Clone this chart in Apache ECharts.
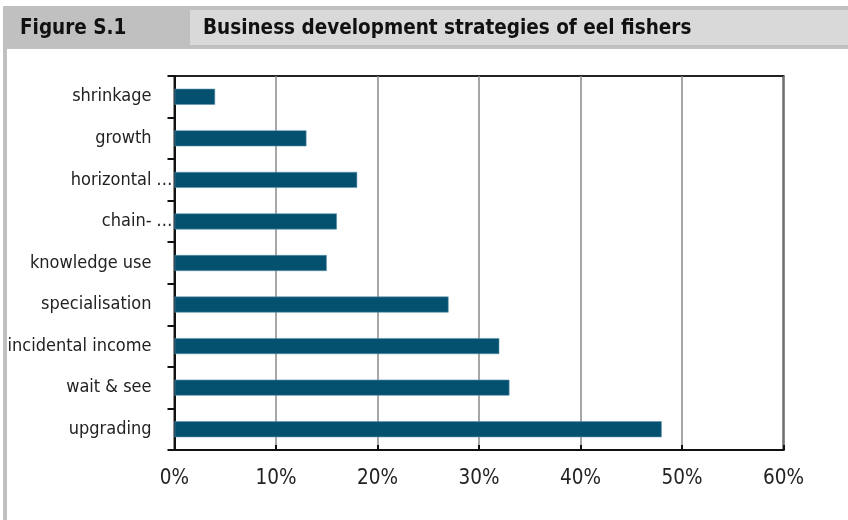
<!DOCTYPE html>
<html>
<head>
<meta charset="utf-8">
<script src="https://cdn.jsdelivr.net/npm/echarts@6/dist/echarts.min.js"></script>
<style>
  html, body { margin: 0; padding: 0; background: #ffffff; }
  #chart { width: 848px; height: 520px; }
</style>
</head>
<body>
<div id="chart"></div>
<script>
// Strategy categories, top to bottom
const categories = [
  'shrinkage', 'growth', 'horizontal', 'chain-', 'knowledge use',
  'specialisation', 'incidental income', 'wait & see', 'upgrading'
];
// Labels that are cut short next to the axis
const truncated = ['horizontal', 'chain-'];
// Share of eel fishers per strategy (%)
const shares = [4, 13, 18, 16, 15, 27, 32, 33, 48];
// Value axis range (%)
const axisMin = 0;
const axisMax = 60;
const axisStep = 10;

const figureLabel = 'Figure S.1';
const figureTitle = 'Business development strategies of eel fishers';

const FONT = '"Liberation Sans Narrow", "DejaVu Sans Condensed", "Liberation Sans", sans-serif';

const chart = echarts.init(document.getElementById('chart'), null, { renderer: 'canvas' });

chart.setOption({
  animation: false,
  backgroundColor: '#ffffff',
  textStyle: { fontFamily: FONT },
  graphic: [
    // header band
    { type: 'rect', left: 3, top: 6, shape: { width: 845, height: 43 }, style: { fill: '#c0c0c0' }, silent: true },
    { type: 'rect', left: 190, top: 10, shape: { width: 658, height: 35 }, style: { fill: '#d9d9d9' }, silent: true },
    // left frame
    { type: 'rect', left: 3, top: 49, shape: { width: 4, height: 471 }, style: { fill: '#c0c0c0' }, silent: true },
    {
      type: 'text', left: 20, top: 18,
      style: { text: figureLabel, font: 'bold 20.5px ' + FONT, fill: '#111111' }
    },
    {
      type: 'text', left: 203, top: 18,
      style: { text: figureTitle, font: 'bold 20.5px ' + FONT, fill: '#111111' }
    }
  ],
  grid: {
    left: 174.5, right: 64.5, top: 76, bottom: 70,
    show: true, borderColor: '#222222', borderWidth: 2, backgroundColor: 'transparent'
  },
  xAxis: {
    type: 'value',
    min: axisMin, max: axisMax, interval: axisStep,
    axisLine: { show: true, lineStyle: { color: '#111111', width: 2 } },
    axisTick: { show: true, inside: true, length: 5, lineStyle: { color: '#111111', width: 2 } },
    splitLine: { show: true, lineStyle: { color: '#8a8a8a', width: 1.5 } },
    axisLabel: {
      formatter: '{value}%', color: '#222222', fontSize: 20.5, margin: 18,
      fontFamily: FONT
    }
  },
  yAxis: {
    type: 'category',
    data: categories,
    inverse: true,
    axisLine: { show: true, lineStyle: { color: '#111111', width: 2 } },
    axisTick: { show: true, length: 7, lineStyle: { color: '#111111', width: 2 } },
    axisLabel: {
      margin: 2,
      color: '#222222',
      fontFamily: FONT,
      formatter: function (v) {
        if (truncated.indexOf(v) >= 0) return '{t|' + v + '}{e|…}';
        return '{t|' + v + '}{g|}';
      },
      rich: {
        t: { fontSize: 18, fontFamily: FONT, color: '#222222' },
        g: { width: 21 },
        e: { width: 21, align: 'right', fontSize: 18, fontFamily: FONT, color: '#222222' }
      }
    }
  },
  series: [{
    type: 'bar',
    data: shares,
    barWidth: 16,
    itemStyle: { color: '#03506f', borderColor: '#5f93ad', borderWidth: 0.6 }
  }]
});
</script>
</body>
</html>
